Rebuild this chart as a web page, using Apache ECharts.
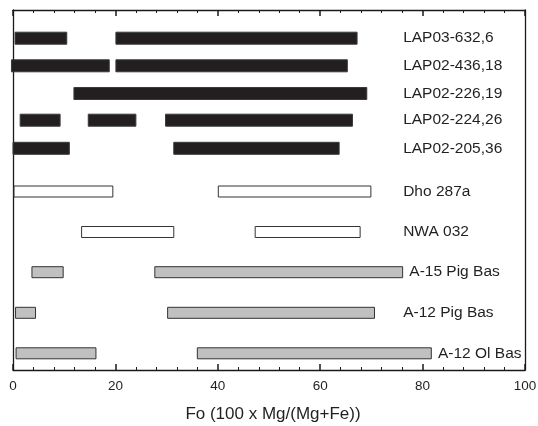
<!DOCTYPE html>
<html>
<head>
<meta charset="utf-8">
<script src="https://cdn.jsdelivr.net/npm/echarts@6/dist/echarts.min.js"></script>
<style>html,body{margin:0;padding:0;background:#fff;}#c{width:538px;height:426px;}</style>
</head>
<body>
<div id="c"></div>
<script>
const rowNames = ['LAP03-632,6','LAP02-436,18','LAP02-226,19','LAP02-224,26','LAP02-205,36','Dho 287a','NWA 032','A-15 Pig Bas','A-12 Pig Bas','A-12 Ol Bas'];
const rowPos = [33.18, 30.42, 27.65, 24.98, 22.17, 17.85, 13.8, 9.78, 5.72, 1.67];
const rowKind = ['black','black','black','black','black','open','open','grey','grey','grey'];
const rowRanges = [
  [[0.4, 10.5], [20.1, 67.2]],
  [[-0.3, 18.8], [20.1, 65.3]],
  [[11.9, 69.1]],
  [[1.4, 9.2], [14.7, 24.0], [29.8, 66.3]],
  [[0.0, 11.0], [31.4, 63.7]],
  [[0.2, 19.5], [40.1, 69.9]],
  [[13.4, 31.4], [47.3, 67.8]],
  [[3.7, 9.8], [27.7, 76.1]],
  [[0.5, 4.4], [30.2, 70.6]],
  [[0.6, 16.2], [36.0, 81.7]]
];
const xTicks = [0, 20, 40, 60, 80, 100];
const xTitle = 'Fo (100 x Mg/(Mg+Fe))';

const kindStyle = {
  black: {fill: '#231f20', stroke: '#3a3a3a', h: 12},
  open:  {fill: '#ffffff', stroke: '#333333', h: 11},
  grey:  {fill: '#c0c0c0', stroke: '#333333', h: 11}
};

const segData = [];
rowRanges.forEach((ranges, i) => {
  ranges.forEach(r => segData.push([r[0], r[1], rowPos[i], i]));
});
const labelData = rowNames.map((n, i) => {
  const lastEnd = rowRanges[i][rowRanges[i].length - 1][1];
  return [Math.max(76.2, lastEnd + 1.3), rowPos[i], i];
});

const font = '"Liberation Sans", Arial, sans-serif';
const axisColor = '#1a1a1a';
const xBase = {
  type: 'value', min: 0, max: 100, interval: 20,
  axisLine: {show: true, onZero: false, lineStyle: {color: axisColor, width: 1.3}},
  axisTick: {show: true, inside: true, length: 6, lineStyle: {color: axisColor, width: 1.5}},
  minorTick: {show: true, splitNumber: 5, length: 3, lineStyle: {color: axisColor, width: 1}},
  splitLine: {show: false}, minorSplitLine: {show: false}
};
const yBase = {
  type: 'value', min: 0, max: 36,
  axisLine: {show: true, onZero: false, lineStyle: {color: axisColor, width: 1.3}},
  axisTick: {show: false}, axisLabel: {show: false}, splitLine: {show: false}
};

const chart = echarts.init(document.getElementById('c'), null, {renderer: 'canvas'});
chart.setOption({
  animation: false,
  grid: {left: 13, right: 13, top: 10, bottom: 56, containLabel: false, outerBoundsMode: 'none'},
  xAxis: [
    Object.assign({}, xBase, {
      position: 'bottom',
      axisLabel: {show: true, margin: 9, fontSize: 13.5, color: '#231f20', fontFamily: font,
        formatter: v => xTicks.indexOf(v) >= 0 ? String(v) : ''},
      name: xTitle, nameLocation: 'middle', nameGap: 36,
      nameTextStyle: {fontSize: 17, color: '#231f20', fontFamily: font, padding: [0, 0, 0, 8]}
    }),
    Object.assign({}, xBase, {position: 'top', axisLabel: {show: false}})
  ],
  yAxis: [
    Object.assign({}, yBase, {position: 'left'}),
    Object.assign({}, yBase, {position: 'right'})
  ],
  series: [
    {
      type: 'custom', clip: false, xAxisIndex: 0, yAxisIndex: 0,
      data: segData,
      renderItem: (params, api) => {
        const s = api.value(0), e = api.value(1), y = api.value(2), idx = api.value(3);
        const st = kindStyle[rowKind[idx]];
        const p0 = api.coord([s, y]);
        const p1 = api.coord([e, y]);
        return {
          type: 'rect',
          shape: {x: p0[0], y: p0[1] - st.h / 2, width: p1[0] - p0[0], height: st.h},
          style: {fill: st.fill, stroke: st.stroke, lineWidth: 1}
        };
      }
    },
    {
      type: 'custom', clip: false, xAxisIndex: 0, yAxisIndex: 0,
      data: labelData,
      renderItem: (params, api) => {
        const p = api.coord([api.value(0), api.value(1)]);
        return {
          type: 'text',
          x: p[0], y: p[1],
          style: {text: rowNames[api.value(2)], fill: '#231f20', font: '15.5px ' + font,
            textAlign: 'left', textVerticalAlign: 'middle'}
        };
      }
    }
  ]
});
</script>
</body>
</html>
